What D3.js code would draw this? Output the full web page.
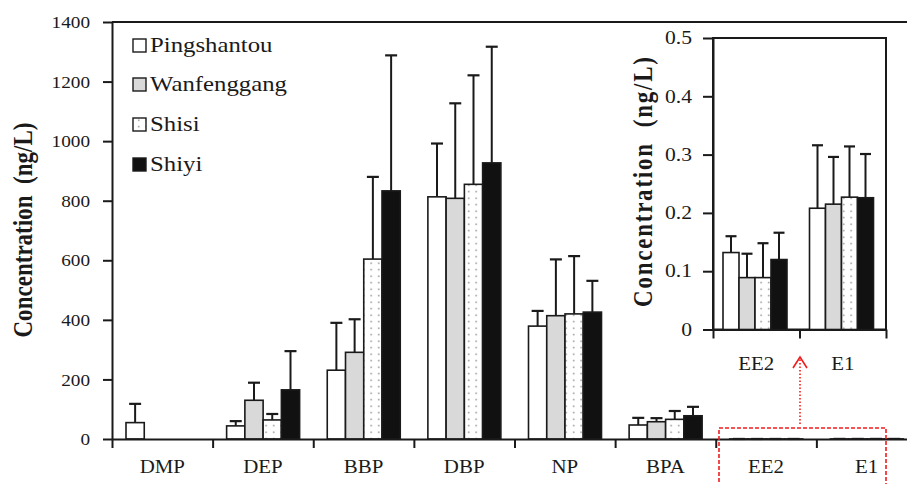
<!DOCTYPE html>
<html>
<head>
<meta charset="utf-8">
<script src="https://cdn.jsdelivr.net/npm/d3@7/dist/d3.min.js"></script>
<style>
  body { margin: 0; background: #fff; }
  svg { display: block; font-family: "Liberation Serif", "Times New Roman", serif; }
  .ylabel { white-space: pre; }
</style>
</head>
<body>
<svg id="svg" width="907" height="484"></svg>
<script>

/**
 * DATA
 */
var categories = ["DMP", "DEP", "BBP", "DBP", "NP", "BPA", "EE2", "E1"];
var insetCategories = ["EE2", "E1"];
var seriesNames = ["Pingshantou", "Wanfenggang", "Shisi", "Shiyi"];

// mean concentration (ng/L), one entry per category
var pingshantou = [55, 44, 231, 813, 379, 47, 0.132, 0.208];
var wanfenggang = [null, 130, 291, 808, 414, 58, 0.089, 0.215];
var shisi       = [null, 64, 604, 855, 420, 66, 0.089, 0.227];
var shiyi       = [null, 165, 833, 927, 426, 78, 0.120, 0.226];

// standard deviation (upper error bar)
var pingshantouSD = [63, 16, 159, 179, 51, 24, 0.028, 0.108];
var wanfenggangSD = [null, 59, 111, 319, 189, 12, 0.041, 0.081];
var shisiSD       = [null, 20, 276, 366, 194, 28, 0.059, 0.087];
var shiyiSD       = [null, 130, 455, 390, 105, 30, 0.046, 0.075];

var yTicks = [0, 200, 400, 600, 800, 1000, 1200, 1400];
var insetTicks = [0, 0.1, 0.2, 0.3, 0.4, 0.5];

var means = [pingshantou, wanfenggang, shisi, shiyi];
var sds = [pingshantouSD, wanfenggangSD, shisiSD, shiyiSD];
var fills = ["#ffffff", "#d9d9d9", "url(#dots)", "#111111"];

function rowsFor(cats) {
    var rows = [];
    cats.forEach(function(cat) {
        var ci = categories.indexOf(cat);
        seriesNames.forEach(function(s, si) {
            if (means[si][ci] !== null) {
                rows.push({ cat: cat, series: s, si: si, value: means[si][ci], sd: sds[si][ci] });
            }
        });
    });
    return rows;
}

var svg = d3.select("#svg");
var ink = "#1a1a1a";

/* dotted fill for Shisi */
var pat = svg.append("defs").append("pattern")
    .attr("id", "dots")
    .attr("patternUnits", "userSpaceOnUse")
    .attr("width", 7.5).attr("height", 6.5);
pat.append("rect").attr("width", 7.5).attr("height", 6.5).attr("fill", "#fff");
pat.append("circle").attr("cx", 3.7).attr("cy", 3.2).attr("r", 0.8).attr("fill", "#888");

/**
 * MAIN CHART
 */
var x = d3.scaleBand().domain(categories).range([112, 917]);
var x1 = d3.scaleBand().domain(seriesNames).range([14, 87]);
var y = d3.scaleLinear().domain([0, 1400]).range([439, 22]);
var xEdges = d3.scaleLinear().domain([0, categories.length]).range([112, 917]);

function drawBars(g, rows, xs, xs1, ys, capW) {
    var grp = g.selectAll("g.bar").data(rows).enter().append("g").attr("class", "bar");
    grp.append("line")
        .attr("x1", function(d) { return xs(d.cat) + xs1(d.series) + xs1.bandwidth() / 2; })
        .attr("x2", function(d) { return xs(d.cat) + xs1(d.series) + xs1.bandwidth() / 2; })
        .attr("y1", function(d) { return ys(d.value); })
        .attr("y2", function(d) { return ys(d.value + d.sd); })
        .attr("stroke", ink).attr("stroke-width", 2);
    grp.append("line")
        .attr("x1", function(d) { return xs(d.cat) + xs1(d.series) + xs1.bandwidth() / 2 - capW / 2; })
        .attr("x2", function(d) { return xs(d.cat) + xs1(d.series) + xs1.bandwidth() / 2 + capW / 2; })
        .attr("y1", function(d) { return ys(d.value + d.sd); })
        .attr("y2", function(d) { return ys(d.value + d.sd); })
        .attr("stroke", ink).attr("stroke-width", 2.2);
    grp.append("rect")
        .attr("x", function(d) { return xs(d.cat) + xs1(d.series); })
        .attr("width", xs1.bandwidth())
        .attr("y", function(d) { return ys(d.value); })
        .attr("height", function(d) { return ys(0) - ys(d.value); })
        .attr("fill", function(d) { return fills[d.si]; })
        .attr("stroke", ink).attr("stroke-width", 1.6);
}

drawBars(svg.append("g"), rowsFor(categories), x, x1, y, 12);

// top border
svg.append("line").attr("x1", 112).attr("x2", 917).attr("y1", y(1400)).attr("y2", y(1400))
    .attr("stroke", ink).attr("stroke-width", 2);

// y axis
var yAxis = svg.append("g").attr("transform", "translate(112,0)")
    .call(d3.axisLeft(y).tickValues(yTicks).tickSize(9).tickPadding(13).tickSizeOuter(0)
        .tickFormat(function(d) { return String(d); }));
yAxis.selectAll("text").attr("font-size", "17.5px").attr("fill", ink)
    .attr("x", -22 / 1.1).attr("transform", "scale(1.1,1)");

// x axis: ticks at category edges, labels centered
var xAxis = svg.append("g").attr("transform", "translate(0," + y(0) + ")")
    .call(d3.axisBottom(xEdges).tickValues(d3.range(categories.length + 1)).tickSize(9)
        .tickFormat("").tickSizeOuter(0));
var xLabels = svg.append("g").attr("transform", "translate(0," + y(0) + ")")
    .call(d3.axisBottom(x).tickSize(0).tickPadding(20.5));
xLabels.select(".domain").remove();
xLabels.selectAll("text").attr("font-size", "19px").attr("fill", ink)
    .attr("transform", "scale(1.1,1)");

[yAxis, xAxis, xLabels].forEach(function(a) {
    a.attr("font-family", null).attr("font-size", null);
    a.selectAll("path, line").attr("stroke", ink).attr("stroke-width", 2);
});

// y label
svg.append("text").attr("class", "ylabel")
    .attr("transform", "translate(32,230) rotate(-90) scale(1,1.2)")
    .attr("text-anchor", "middle")
    .attr("font-size", "23px").attr("font-weight", "bold").attr("fill", ink)
    .attr("textLength", 215).attr("lengthAdjust", "spacing")
    .text("Concentration  (ng/L)");

/* LEGEND */
var legend = svg.selectAll("g.legend").data(seriesNames).enter().append("g")
    .attr("class", "legend");
var legendY = [52, 91, 131, 171];
legend.append("rect")
    .attr("x", 133).attr("width", 13).attr("height", 13)
    .attr("y", function(d, i) { return legendY[i] - 13; })
    .attr("fill", function(d, i) { return fills[i]; })
    .attr("stroke", ink).attr("stroke-width", 1.4);
legend.append("text")
    .attr("transform", function(d, i) { return "translate(150," + legendY[i] + ") scale(1.18,1)"; })
    .attr("font-size", "21px").attr("fill", ink)
    .text(function(d) { return d; });

/**
 * INSET
 */
var ix = d3.scaleBand().domain(insetCategories).range([713, 886]);
var ix1 = d3.scaleBand().domain(seriesNames).range([10, 74]);
var iy = d3.scaleLinear().domain([0, 0.5]).range([329.5, 38]);

svg.append("rect").attr("x", 713).attr("y", iy(0.5))
    .attr("width", 886 - 713).attr("height", iy(0) - iy(0.5))
    .attr("fill", "#fff").attr("stroke", ink).attr("stroke-width", 2);

drawBars(svg.append("g"), rowsFor(insetCategories), ix, ix1, iy, 11);

var iyAxis = svg.append("g").attr("transform", "translate(713,0)")
    .call(d3.axisLeft(iy).tickValues(insetTicks).tickSize(10).tickPadding(11).tickSizeOuter(0)
        .tickFormat(function(d) { return String(d); }));
iyAxis.selectAll("text").attr("font-size", "18px").attr("fill", ink)
    .attr("x", -21 / 1.2).attr("transform", "scale(1.2,1)");

var ixEdges = d3.scaleLinear().domain([0, 2]).range([713, 886]);
var ixAxis = svg.append("g").attr("transform", "translate(0," + iy(0) + ")")
    .call(d3.axisBottom(ixEdges).tickValues([0, 1, 2]).tickSize(9).tickFormat("").tickSizeOuter(0));
var ixLabels = svg.append("g").attr("transform", "translate(0," + iy(0) + ")")
    .call(d3.axisBottom(ix).tickSize(0).tickPadding(27.5));
ixLabels.select(".domain").remove();
ixLabels.selectAll("text").attr("font-size", "18px").attr("fill", ink)
    .attr("transform", "scale(1.16,1)");

[iyAxis, ixAxis, ixLabels].forEach(function(a) {
    a.attr("font-family", null).attr("font-size", null);
    a.selectAll("path, line").attr("stroke", ink).attr("stroke-width", 2);
});

svg.append("text").attr("class", "ylabel")
    .attr("transform", "translate(651.5,182) rotate(-90) scale(1,1.2)")
    .attr("text-anchor", "middle")
    .attr("font-size", "23px").attr("font-weight", "bold").attr("fill", ink)
    .attr("textLength", 250).attr("lengthAdjust", "spacing")
    .text("Concentration  (ng/L)");

/* ZOOM MARKER */
var red = "#f21c1c";
svg.append("rect").attr("x", 719).attr("y", 428).attr("width", 886 - 719).attr("height", 100)
    .attr("fill", "none").attr("stroke", red).attr("stroke-width", 1.6)
    .attr("stroke-dasharray", "4,2");
svg.append("line").attr("x1", 800).attr("x2", 800).attr("y1", 424).attr("y2", 358)
    .attr("stroke", red).attr("stroke-width", 1.6).attr("stroke-dasharray", "1.5,2");
svg.append("polyline").attr("points", "793,368 800,357 807,368")
    .attr("fill", "none").attr("stroke", red).attr("stroke-width", 1.6);

</script>
</body>
</html>
